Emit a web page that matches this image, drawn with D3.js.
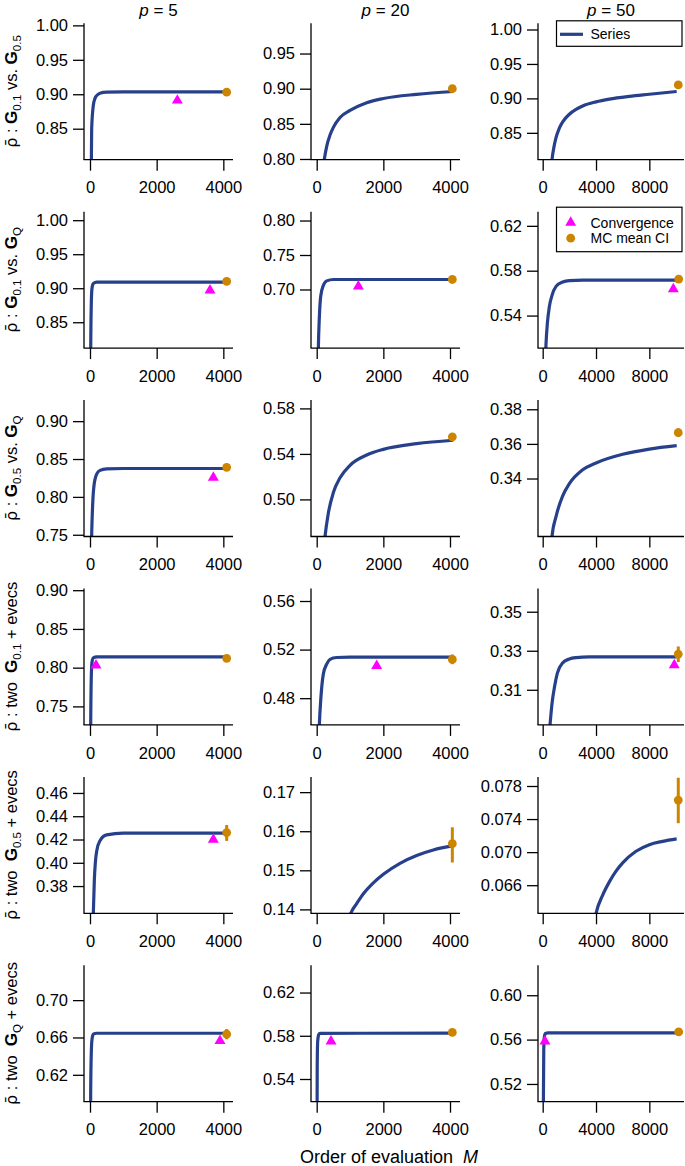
<!DOCTYPE html>
<html><head><meta charset="utf-8">
<script src="https://cdn.jsdelivr.net/npm/d3@7"></script>
<style>
body{margin:0;background:#fff}
svg{display:block}
text{font-family:"Liberation Sans",Arial,Helvetica,sans-serif;fill:#000}
</style>
</head><body>
<svg id="c" width="685" height="1166"></svg>
<script>
// ---------- data ----------
const pValues = ["5", "20", "50"];
const xTicks = [[0, 2000, 4000], [0, 2000, 4000], [0, 4000, 8000]];
const xDomains = [[-180, 4290], [-171, 4300], [-352, 10600]];

const rowLabels = [
  [["G", "b"], ["0.1", "s"], [" vs. "], ["G", "b"], ["0.5", "s"]],
  [["G", "b"], ["0.1", "s"], [" vs. "], ["G", "b"], ["Q", "s"]],
  [["G", "b"], ["0.5", "s"], [" vs. "], ["G", "b"], ["Q", "s"]],
  [["two  "], ["G", "b"], ["0.1", "s"], [" + evecs"]],
  [["two  "], ["G", "b"], ["0.5", "s"], [" + evecs"]],
  [["two  "], ["G", "b"], ["Q", "s"], [" + evecs"]]
];

// y ranges per panel (row-major)
const yDomains = [
  [0.805, 1.003], [0.799, 0.993], [0.811, 1.009],
  [0.812, 1.0125], [0.615, 0.8128], [0.511, 0.6326],
  [0.7477, 0.9278], [0.4674, 0.5873], [0.3065, 0.3853],
  [0.7261, 0.9022], [0.458, 0.5703], [0.292, 0.3619],
  [0.3566, 0.4738], [0.139, 0.1739], [0.0626, 0.0791],
  [0.5912, 0.7373], [0.519, 0.6452], [0.504, 0.627]
];
const yTicks = [
  [0.85, 0.90, 0.95, 1.00], [0.80, 0.85, 0.90, 0.95], [0.85, 0.90, 0.95, 1.00],
  [0.85, 0.90, 0.95, 1.00], [0.70, 0.75, 0.80], [0.54, 0.58, 0.62],
  [0.75, 0.80, 0.85, 0.90], [0.50, 0.54, 0.58], [0.34, 0.36, 0.38],
  [0.75, 0.80, 0.85, 0.90], [0.48, 0.52, 0.56], [0.31, 0.33, 0.35],
  [0.38, 0.40, 0.42, 0.44, 0.46], [0.14, 0.15, 0.16, 0.17], [0.066, 0.070, 0.074, 0.078],
  [0.62, 0.66, 0.70], [0.54, 0.58, 0.62], [0.52, 0.56, 0.60]
];
const yDecimals = [2,2,2, 2,2,2, 2,2,2, 2,2,2, 2,2,3, 2,2,2];

// Series curves [M, rho-bar]
const series = [
  [[20,0.70],[50,0.85],[100,0.884],[150,0.894],[200,0.898],[300,0.9015],[500,0.903],[1000,0.9035],[4096,0.9035]],
  [[200,0.79],[230,0.800],[300,0.818],[400,0.834],[500,0.845],[700,0.859],[1000,0.869],[1500,0.880],[2000,0.886],[3000,0.892],[4096,0.896]],
  [[650,0.80],[700,0.811],[850,0.830],[1000,0.843],[1250,0.857],[1500,0.866],[2000,0.877],[2500,0.884],[3000,0.889],[4000,0.895],[5000,0.899],[6500,0.903],[8000,0.906],[10050,0.910]],
  [[10,0.6],[20,0.80],[40,0.88],[60,0.90],[100,0.907],[200,0.909],[4096,0.909]],
  [[30,0.55],[50,0.615],[80,0.66],[120,0.69],[200,0.706],[300,0.7125],[500,0.7145],[4096,0.7145]],
  [[200,0.50],[250,0.515],[350,0.533],[500,0.548],[700,0.558],[1000,0.566],[1500,0.570],[2000,0.5712],[3000,0.5716],[10050,0.5716]],
  [[30,0.70],[50,0.75],[80,0.79],[120,0.815],[200,0.830],[300,0.835],[500,0.837],[1000,0.8375],[4096,0.8375]],
  [[220,0.458],[250,0.4674],[350,0.488],[500,0.506],[700,0.519],[1000,0.530],[1500,0.539],[2000,0.544],[3000,0.549],[4096,0.552]],
  [[650,0.300],[700,0.3065],[1000,0.318],[1500,0.330],[2000,0.337],[3000,0.345],[4000,0.349],[6000,0.354],[8000,0.357],[10050,0.359]],
  [[10,0.60],[20,0.72],[40,0.79],[60,0.807],[100,0.8125],[200,0.8138],[4096,0.8138]],
  [[60,0.44],[80,0.458],[120,0.478],[200,0.500],[300,0.508],[400,0.512],[600,0.5135],[1000,0.5138],[4096,0.5138]],
  [[500,0.288],[550,0.292],[700,0.303],[900,0.312],[1100,0.3185],[1500,0.3238],[2000,0.3258],[2500,0.3265],[3500,0.3269],[10050,0.3269]],
  [[80,0.33],[100,0.357],[130,0.385],[160,0.400],[200,0.410],[300,0.419],[500,0.4240],[1000,0.4255],[4096,0.4255]],
  [[1000,0.1385],[1050,0.1395],[1200,0.1415],[1400,0.1440],[1700,0.1468],[2000,0.1490],[2500,0.1518],[3000,0.1538],[3500,0.1552],[4096,0.1563]],
  [[3900,0.0618],[4000,0.0626],[4500,0.0648],[5000,0.0664],[5500,0.0677],[6000,0.0687],[7000,0.0701],[8000,0.0709],[9000,0.0713],[10050,0.0716]],
  [[10,0.5],[20,0.60],[40,0.645],[60,0.658],[100,0.6635],[200,0.6645],[4096,0.6645]],
  [[5,0.40],[15,0.55],[30,0.575],[60,0.581],[100,0.5822],[4096,0.5825]],
  [[20,0.40],[50,0.50],[80,0.55],[120,0.562],[200,0.5655],[400,0.566],[10050,0.566]]
];

// Convergence points [M, value] (null = none)
const convergence = [
  [2620,0.891], null, null,
  [3600,0.897], [1250,0.7045], [9800,0.5637],
  [3700,0.8254], null, null,
  [180,0.803], [1800,0.5067], [9870,0.3226],
  [3700,0.420], null, null,
  [3900,0.6564], [430,0.5748], [170,0.5585]
];

// MC mean with CI [M, mean, lo, hi]
const mcMean = [
  [4100,0.903,0.903,0.903], [4070,0.900,0.900,0.900], [10170,0.9195,0.9195,0.9195],
  [4100,0.910,0.910,0.910], [4070,0.7145,0.7145,0.7145], [10200,0.5725,0.5725,0.5725],
  [4100,0.839,0.839,0.839], [4070,0.555,0.553,0.557], [10170,0.3665,0.364,0.369],
  [4100,0.812,0.812,0.812], [4070,0.5119,0.508,0.516], [10170,0.3283,0.3242,0.3322],
  [4100,0.426,0.4188,0.4325], [4070,0.1568,0.152,0.161], [10170,0.0763,0.0735,0.079],
  [4100,0.6635,0.658,0.669], [4070,0.5831,0.5831,0.5831], [10200,0.5669,0.5669,0.5669]
];

const legendSeries = ["Series"];
const legendPoints = ["Convergence", "MC mean CI"];
const xTitle = "Order of evaluation";
const xTitleVar = "M";

// ---------- layout / style ----------
const colLeft = [84, 311, 538], colRight = [233, 460, 684];
const rowTop0 = 23.3, rowStep = 188.4, rowH = 136.4;
const BLUE = "#27408B", ORANGE = "#CD8500", MAGENTA = "#FF00FF";
const FS = 16.5;

const svg = d3.select("#c");

for (let r = 0; r < 6; r++) {
  for (let c = 0; c < 3; c++) {
    const k = r * 3 + c;
    const top = rowTop0 + r * rowStep, bottom = top + rowH;
    const x = d3.scaleLinear().domain(xDomains[c]).range([colLeft[c], colRight[c]]);
    const y = d3.scaleLinear().domain(yDomains[k]).range([bottom, top]);
    const g = svg.append("g");

    const cid = "clip" + k;
    svg.append("clipPath").attr("id", cid).append("rect")
      .attr("x", colLeft[c]).attr("y", top)
      .attr("width", colRight[c] - colLeft[c]).attr("height", rowH);

    // series
    const line = d3.line().x(d => x(d[0])).y(d => y(d[1])).curve(d3.curveMonotoneX);
    g.append("path").datum(series[k]).attr("d", line)
      .attr("fill", "none").attr("stroke", BLUE).attr("stroke-width", 3.2)
      .attr("clip-path", `url(#${cid})`);

    // axes
    const ya = d3.axisLeft(y).tickValues(yTicks[k]).tickSize(11).tickSizeOuter(0)
      .tickPadding(5).tickFormat(d3.format("." + yDecimals[k] + "f"));
    const gy = g.append("g").attr("transform", `translate(${colLeft[c]},0)`).call(ya);
    const xa = d3.axisBottom(x).tickValues(xTicks[c]).tickSize(11).tickSizeOuter(0)
      .tickPadding(11).tickFormat(d3.format("d"));
    const gx = g.append("g").attr("transform", `translate(0,${bottom})`).call(xa);
    [gy, gx].forEach(a => {
      a.selectAll("path,line").attr("stroke", "#000").attr("stroke-width", 1.3);
      a.selectAll("text").attr("font-size", FS).attr("fill", "#000")
        .style("font-family", '"Liberation Sans",Arial,sans-serif');
    });
    gy.select(".domain").attr("d", `M0,${bottom}V${top}`);
    gx.select(".domain").attr("d", `M${colLeft[c] - 1}.5,0H${colRight[c]}`);

    // MC mean CI
    const m = mcMean[k];
    if (m[3] > m[2]) {
      g.append("line").attr("x1", x(m[0])).attr("x2", x(m[0]))
        .attr("y1", y(m[2])).attr("y2", y(m[3]))
        .attr("stroke", ORANGE).attr("stroke-width", 3);
    }
    g.append("circle").attr("cx", x(m[0])).attr("cy", y(m[1])).attr("r", 4.4).attr("fill", ORANGE);

    // convergence
    const cv = convergence[k];
    if (cv) {
      g.append("path").attr("d", d3.symbol(d3.symbolTriangle, 52)())
        .attr("transform", `translate(${x(cv[0])},${y(cv[1])})`)
        .attr("fill", MAGENTA);
    }

    // column title
    if (r === 0) {
      const t = svg.append("text").attr("x", (colLeft[c] + colRight[c]) / 2).attr("y", 15.5)
        .attr("text-anchor", "middle").attr("font-size", 17);
      t.append("tspan").attr("font-style", "italic").text("p");
      t.append("tspan").text(" = " + pValues[c]);
    }

    // row label
    if (c === 0) {
      const cy = (top + bottom) / 2;
      const t = svg.append("text").attr("transform", `translate(17,${cy}) rotate(-90)`)
        .attr("text-anchor", "middle").attr("font-size", FS).style("white-space", "pre");
      t.append("tspan").style("font-family", '"DejaVu Sans",sans-serif').attr("font-size", 16).text("\u03C1\u0304");
      t.append("tspan").text(" : ");
      let sub = false;
      rowLabels[r].forEach(p => {
        const s = t.append("tspan").text(p[0]);
        if (p[1] === "b") s.attr("font-weight", "bold").attr("font-size", 17);
        if (p[1] === "s") { s.attr("font-size", 11.5).attr("dy", 4); sub = true; }
        else if (sub) { s.attr("dy", -4); sub = false; }
      });
    }
  }
}

// legends
{
  const L = colRight[2], T = rowTop0;
  const g = svg.append("g");
  g.append("rect").attr("x", 556.5).attr("y", T - 2.5).attr("width", L - 2 - 556.5).attr("height", 25.5)
    .attr("fill", "#fff").attr("stroke", "#000").attr("stroke-width", 1.2);
  g.append("line").attr("x1", 560).attr("x2", 583).attr("y1", T + 11).attr("y2", T + 11)
    .attr("stroke", BLUE).attr("stroke-width", 3.2);
  g.append("text").attr("x", 590.5).attr("y", T + 16).attr("font-size", 14).text(legendSeries[0]);
}
{
  const L = colRight[2], T = rowTop0 + rowStep;
  const g = svg.append("g");
  g.append("rect").attr("x", 556.5).attr("y", T - 4.5).attr("width", L - 2 - 556.5).attr("height", 44.5)
    .attr("fill", "#fff").attr("stroke", "#000").attr("stroke-width", 1.2);
  g.append("path").attr("d", d3.symbol(d3.symbolTriangle, 52)())
    .attr("transform", `translate(570.7,${T + 10.8})`).attr("fill", MAGENTA);
  g.append("circle").attr("cx", 570.7).attr("cy", T + 26.5).attr("r", 4.4).attr("fill", ORANGE);
  g.append("text").attr("x", 590.5).attr("y", T + 15.8).attr("font-size", 14).text(legendPoints[0]);
  g.append("text").attr("x", 590.5).attr("y", T + 31.5).attr("font-size", 14).text(legendPoints[1]);
}

// x title
{
  const t = svg.append("text").attr("x", 389).attr("y", 1163).attr("text-anchor", "middle")
    .attr("font-size", 18).style("white-space", "pre");
  t.append("tspan").text(xTitle + "  ");
  t.append("tspan").attr("font-style", "italic").text(xTitleVar);
}
</script>
</body></html>
